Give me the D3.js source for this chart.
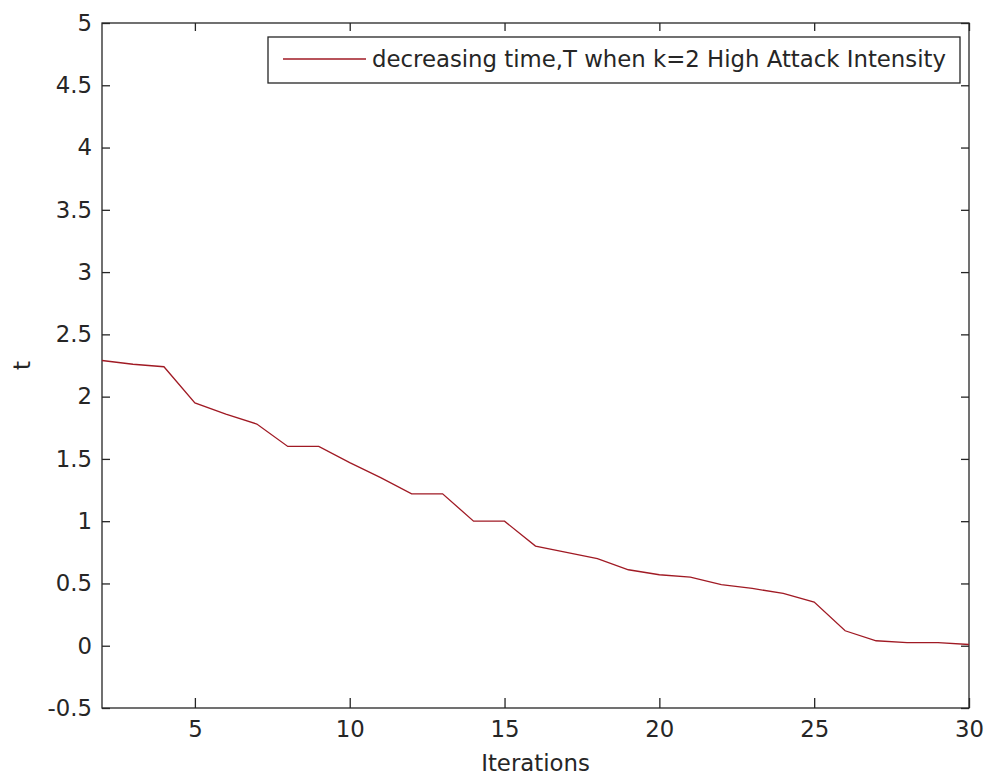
<!DOCTYPE html>
<html>
<head>
<meta charset="utf-8">
<script src="https://cdn.jsdelivr.net/npm/d3@7"></script>
<style>
  html, body { margin: 0; padding: 0; background: #fff; }
  svg { display: block; }
  text { font-family: "DejaVu Sans", sans-serif; fill: #262626; }
</style>
</head>
<body>
<svg id="chart" width="987" height="779"></svg>
<script>
// Data
const iterations = [2, 3, 4, 5, 6, 7, 8, 9, 10, 11, 12, 13, 14, 15, 16, 17, 18, 19, 20, 21, 22, 23, 24, 25, 26, 27, 28, 29, 30];
const tValues   = [2.29, 2.26, 2.24, 1.95, 1.86, 1.78, 1.60, 1.60, 1.47, 1.35, 1.22, 1.22, 1.00, 1.00, 0.80, 0.75, 0.70, 0.61, 0.57, 0.55, 0.49, 0.46, 0.42, 0.35, 0.12, 0.04, 0.025, 0.025, 0.01];
const xTickValues = [5, 10, 15, 20, 25, 30];
const yTickValues = [-0.5, 0, 0.5, 1, 1.5, 2, 2.5, 3, 3.5, 4, 4.5, 5];
const legendLabel = "decreasing time,T when k=2 High Attack Intensity";
const xLabel = "Iterations";
const yLabel = "t";

const svg = d3.select("#chart");
const L = 102, R = 969, T = 23, B = 708;

const x = d3.scaleLinear().domain([2, 30]).range([L, R]);
const y = d3.scaleLinear().domain([-0.5, 5]).range([B, T]);

const axisColor = "#262626";
const fontSize = 22.8;
const lineColor = "#a01a24";

// Frame
svg.append("rect")
  .attr("x", L).attr("y", T).attr("width", R - L).attr("height", B - T)
  .attr("fill", "none").attr("stroke", axisColor).attr("stroke-width", 1.3);

// Bottom axis (inward ticks)
const xAxis = d3.axisBottom(x).tickValues(xTickValues).tickSizeInner(-10).tickSizeOuter(0).tickPadding(13).tickFormat(d3.format("d"));
const gx = svg.append("g").attr("transform", `translate(0,${B})`).call(xAxis);
gx.select(".domain").remove();
gx.selectAll(".tick line").attr("stroke", axisColor).attr("stroke-width", 1.3);
gx.selectAll(".tick text").attr("font-size", fontSize).attr("font-family", "DejaVu Sans, sans-serif").attr("fill", axisColor);

// Top mirrored ticks
const xTop = d3.axisTop(x).tickValues(xTickValues).tickSizeInner(-8).tickSizeOuter(0).tickFormat("");
const gxt = svg.append("g").attr("transform", `translate(0,${T})`).call(xTop);
gxt.select(".domain").remove();
gxt.selectAll(".tick line").attr("stroke", axisColor).attr("stroke-width", 1.3);

// Left axis
const yAxis = d3.axisLeft(y).tickValues(yTickValues).tickSizeInner(-8).tickSizeOuter(0).tickPadding(10).tickFormat(d => String(d));
const gy = svg.append("g").attr("transform", `translate(${L},0)`).call(yAxis);
gy.select(".domain").remove();
gy.selectAll(".tick line").attr("stroke", axisColor).attr("stroke-width", 1.3);
gy.selectAll(".tick text").attr("font-size", fontSize).attr("font-family", "DejaVu Sans, sans-serif").attr("fill", axisColor);

// Right mirrored ticks
const yRight = d3.axisRight(y).tickValues(yTickValues).tickSizeInner(-8).tickSizeOuter(0).tickFormat("");
const gyr = svg.append("g").attr("transform", `translate(${R},0)`).call(yRight);
gyr.select(".domain").remove();
gyr.selectAll(".tick line").attr("stroke", axisColor).attr("stroke-width", 1.3);

// Data line
const data = iterations.map((d, i) => ({ x: d, y: tValues[i] }));
const line = d3.line().x(d => x(d.x)).y(d => y(d.y));
svg.append("path")
  .datum(data)
  .attr("d", line)
  .attr("fill", "none")
  .attr("stroke", lineColor)
  .attr("stroke-width", 1.3);

// Axis labels
svg.append("text")
  .attr("x", (L + R) / 2).attr("y", 771)
  .attr("text-anchor", "middle")
  .attr("font-size", fontSize)
  .text(xLabel);

svg.append("text")
  .attr("transform", `translate(30,${(T + B) / 2}) rotate(-90)`)
  .attr("text-anchor", "middle")
  .attr("font-size", fontSize)
  .text(yLabel);

// Legend
const legend = svg.append("g");
const lx0 = 268, ly0 = 37, lx1 = 960, ly1 = 83;
legend.append("rect")
  .attr("x", lx0).attr("y", ly0).attr("width", lx1 - lx0).attr("height", ly1 - ly0)
  .attr("fill", "#fff").attr("stroke", axisColor).attr("stroke-width", 1.3);
legend.append("line")
  .attr("x1", 283).attr("x2", 366).attr("y1", 59).attr("y2", 59)
  .attr("stroke", lineColor).attr("stroke-width", 1.3);
legend.append("text")
  .attr("x", 372).attr("y", 67)
  .attr("font-size", fontSize)
  .text(legendLabel);
</script>
</body>
</html>
